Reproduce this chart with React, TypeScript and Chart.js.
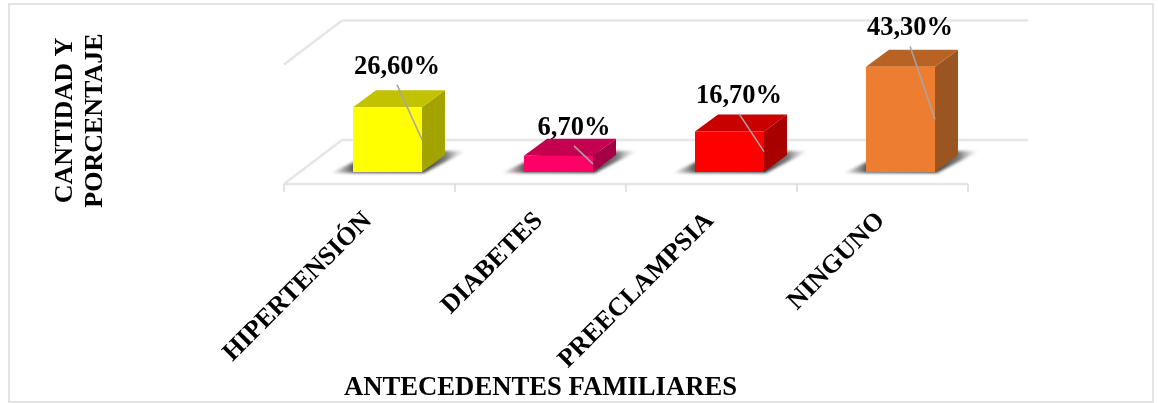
import React, { useEffect, useRef } from "react";
import { Chart, registerables } from "chart.js";

Chart.register(...registerables);

const categories = ["HIPERTENSIÓN", "DIABETES", "PREECLAMPSIA", "NINGUNO"];
const percentages = [26.6, 6.7, 16.7, 43.3];
const frontColors = ["#FFFF00", "#FF0066", "#FF0000", "#ED7D31"];
const topColors = ["#C2C200", "#C4004F", "#C80000", "#B86224"];
const sideColors = ["#A3A300", "#A50045", "#A80000", "#9A5520"];
const leaderRise = [55, 18, 38, 73];
const leaderRun = [25, 19, 25, 25];
const yTitleLines = ["CANTIDAD Y", "PORCENTAJE"];
const xTitle = "ANTECEDENTES FAMILIARES";

const FONT = '"Liberation Serif", "Times New Roman", serif';
const SIZE = 26.5;
const DEPTH_X = 23;
const DEPTH_Y = 17;
const SHIFT = 18;

const fmt = (v: number) => v.toFixed(2).replace(".", ",") + "%";

const scene = {
  id: "scene",
  beforeDraw(chart: any) {
    const { ctx, width, height } = chart;
    ctx.save();
    ctx.fillStyle = "#fff";
    ctx.fillRect(0, 0, width, height);
    ctx.strokeStyle = "#DDDDDD";
    ctx.lineWidth = 1.6;
    ctx.strokeRect(9, 4, 1144, 398);
    ctx.restore();
  },
  beforeDatasetsDraw(chart: any) {
    const { ctx, scales } = chart;
    const x = scales.x;
    const y = scales.y;
    const base = y.getPixelForValue(0);
    const top = y.getPixelForValue(50);
    const fl = x.left - SHIFT;
    const fr = x.right - SHIFT;
    const step = (fr - fl) / categories.length;
    ctx.save();
    ctx.strokeStyle = "#E6E6E6";
    ctx.lineWidth = 2.5;
    const line = (a: number, b: number, c: number, d: number) => {
      ctx.beginPath();
      ctx.moveTo(a, b);
      ctx.lineTo(c, d);
      ctx.stroke();
    };
    const bx = fl + 58;
    const brx = fr + 60;
    line(bx, top - 30, brx, top - 30);
    line(bx, base - 32, brx, base - 32);
    line(bx, top - 30, fl, top + 14);
    line(bx, base - 32, fl, base + 12);
    line(fl, base + 12, fr, base + 12);
    ctx.lineWidth = 1.5;
    ctx.strokeStyle = "#D9D9D9";
    for (let i = 0; i <= categories.length; i++) {
      const t = fl + i * step;
      line(t, base + 12, t, base + 20);
    }
    const bars = chart.getDatasetMeta(0).data;
    bars.forEach((b: any, i: number) => {
      const l = b.x - b.width / 2;
      const r = b.x + b.width / 2;
      const ty = b.y;
      // soft floor shadow
      const g = ctx.createLinearGradient(l - 22, 0, r + 44, 0);
      const span = r + 44 - (l - 22);
      g.addColorStop(0, "rgba(150,150,150,0.15)");
      g.addColorStop(22 / span, "rgba(70,70,70,0.9)");
      g.addColorStop((22 + (r - l)) / span, "rgba(50,50,50,0.95)");
      g.addColorStop((22 + (r - l) + 24) / span, "rgba(90,90,90,0.8)");
      g.addColorStop(1, "rgba(200,200,200,0.1)");
      ctx.save();
      ctx.filter = "blur(1.8px)";
      ctx.fillStyle = g;
      ctx.beginPath();
      ctx.moveTo(l - 22, base + 1);
      ctx.lineTo(l + 24, base - 21);
      ctx.lineTo(r + 44, base - 21);
      ctx.lineTo(r + 2, base + 1);
      ctx.closePath();
      ctx.fill();
      ctx.restore();
      // side face
      ctx.fillStyle = sideColors[i];
      ctx.beginPath();
      ctx.moveTo(r, ty);
      ctx.lineTo(r + DEPTH_X, ty - DEPTH_Y);
      ctx.lineTo(r + DEPTH_X, base - DEPTH_Y);
      ctx.lineTo(r, base);
      ctx.closePath();
      ctx.fill();
      // top face
      ctx.fillStyle = topColors[i];
      ctx.beginPath();
      ctx.moveTo(l, ty);
      ctx.lineTo(l + DEPTH_X, ty - DEPTH_Y);
      ctx.lineTo(r + DEPTH_X, ty - DEPTH_Y);
      ctx.lineTo(r, ty);
      ctx.closePath();
      ctx.fill();
    });
    ctx.restore();
  },
  afterDatasetsDraw(chart: any) {
    const { ctx, scales } = chart;
    const base = scales.y.getPixelForValue(0);
    const bars = chart.getDatasetMeta(0).data;
    ctx.save();
    ctx.textAlign = "center";
    ctx.textBaseline = "alphabetic";
    ctx.fillStyle = "#000";
    ctx.font = `bold ${SIZE}px ${FONT}`;
    bars.forEach((b: any, i: number) => {
      const ex = b.x + b.width / 2;
      const ey = (b.y + base) / 2;
      const sx = ex - leaderRun[i];
      const sy = ey - leaderRise[i];
      ctx.strokeStyle = "#A6A6A6";
      ctx.lineWidth = 1.5;
      ctx.beginPath();
      ctx.moveTo(sx, sy);
      ctx.lineTo(ex, ey);
      ctx.stroke();
      ctx.fillText(fmt(percentages[i]), sx, sy - 11);
    });
    // axis titles
    ctx.font = `bold 26.7px ${FONT}`;
    ctx.fillText(xTitle, 540.5, 395);
    ctx.font = `bold 26px ${FONT}`;
    ctx.save();
    ctx.translate(72, 120.5);
    ctx.rotate(-Math.PI / 2);
    ctx.fillText(yTitleLines[0], 0, 0);
    ctx.fillText(yTitleLines[1], 0, 30);
    ctx.restore();
    ctx.restore();
  },
};

export default function App() {
  const ref = useRef<HTMLCanvasElement>(null);
  useEffect(() => {
    const chart = new Chart(ref.current!, {
      type: "bar",
      data: {
        labels: categories,
        datasets: [
          {
            data: percentages,
            backgroundColor: frontColors,
            borderWidth: 0,
            barPercentage: 0.4035,
            categoryPercentage: 1,
          },
        ],
      },
      options: {
        animation: false,
        responsive: false,
        devicePixelRatio: 1,
        layout: { padding: { left: 302, right: 172, top: 50.4, bottom: 0 } },
        plugins: { legend: { display: false }, tooltip: { enabled: false } },
        scales: {
          x: {
            grid: { display: false },
            border: { display: false },
            afterFit(s: any) {
              s.height = 231;
            },
            ticks: {
              autoSkip: false,
              minRotation: 45,
              maxRotation: 45,
              labelOffset: -SHIFT - 1.5,
              padding: 26,
              color: "#000",
              font: { family: FONT, size: 26, weight: "bold" },
            },
          },
          y: { display: false, min: 0, max: 50 },
        },
      },
      plugins: [scene],
    } as any);
    return () => chart.destroy();
  }, []);
  return (
    <div style={{ position: "fixed", left: 0, top: 0, width: 1158, height: 403 }}>
      <canvas ref={ref} width={1158} height={403} style={{ display: "block" }} />
    </div>
  );
}
